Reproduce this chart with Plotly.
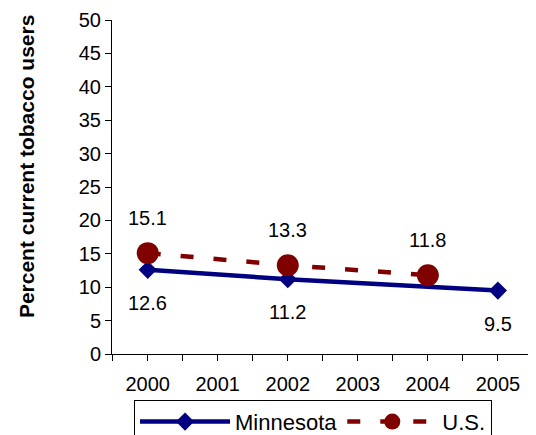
import plotly.graph_objects as go

years_mn = [2000, 2002, 2005]
mn_values = [12.6, 11.2, 9.5]
years_us = [2000, 2002, 2004]
us_values = [15.1, 13.3, 11.8]
tick_years = [2000, 2001, 2002, 2003, 2004, 2005]
y_ticks = [0, 5, 10, 15, 20, 25, 30, 35, 40, 45, 50]
y_title = "Percent current tobacco users"

FONT = "Liberation Sans, Arial, sans-serif"
NAVY = "#000080"
MAROON = "#800000"

fig = go.Figure()
fig.add_trace(go.Scatter(
    x=years_mn, y=mn_values, name="Minnesota", mode="lines+markers",
    line=dict(color=NAVY, width=4.5),
    marker=dict(symbol="diamond", size=14, color=NAVY),
))
fig.add_trace(go.Scatter(
    x=years_us, y=us_values, name="U.S.", mode="lines+markers",
    line=dict(color=MAROON, width=4.5, dash="13px,20px"),
    marker=dict(symbol="circle", size=22, color=MAROON),
))

annotations = []
for x, v in zip(years_us, us_values):
    annotations.append(dict(x=x, y=v, text=f"{v:.1f}", showarrow=False,
                            yshift=35, font=dict(size=20, color="black", family=FONT)))
for x, v in zip(years_mn, mn_values):
    annotations.append(dict(x=x, y=v, text=f"{v:.1f}", showarrow=False,
                            yshift=-33, font=dict(size=20, color="black", family=FONT)))
annotations.append(dict(xref="paper", yref="paper", x=-0.204, y=0.56, xanchor="center",
                        yanchor="middle", textangle=-90, showarrow=False,
                        text=f"<b>{y_title}</b>", font=dict(size=21, color="black", family=FONT)))

fig.update_layout(
    width=536, height=435,
    margin=dict(l=112, r=8, t=20, b=81),
    paper_bgcolor="white", plot_bgcolor="white",
    font=dict(family=FONT, size=20, color="black"),
    showlegend=True,
    legend=dict(orientation="h", xref="container", yref="container",
                x=0.584, xanchor="center", y=0.081, yanchor="top",
                bordercolor="black", borderwidth=1, font=dict(size=22, family=FONT),
                itemwidth=90, tracegroupgap=0),
    annotations=annotations,
    xaxis=dict(range=[1999.49, 2005.43], tickvals=tick_years,
               ticktext=[str(t) for t in tick_years], automargin=False,
               showline=True, linecolor="black", linewidth=1,
               ticks="outside", ticklen=6, tickcolor="black",
               minor=dict(tick0=1999.5, dtick=1, ticks="outside", ticklen=6, tickcolor="black"),
               showgrid=False, zeroline=False, tickfont=dict(size=20), ticklabelstandoff=6),
    yaxis=dict(range=[0, 50], tickvals=y_ticks, showline=True, linecolor="black", linewidth=1,
               ticks="outside", ticklen=6, tickcolor="black", showgrid=False, zeroline=False,
               tickfont=dict(size=20), automargin=False),
)

fig.write_html("out.html", config={"displayModeBar": False},
               post_script="document.body.style.margin='0';")
